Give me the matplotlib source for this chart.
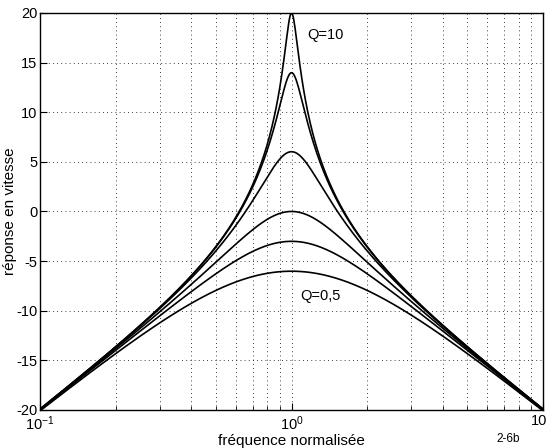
import numpy as np
import matplotlib
matplotlib.use("Agg")
import matplotlib.pyplot as plt
import matplotlib.transforms as mtransforms
from matplotlib.ticker import FixedLocator, LogLocator, NullFormatter

plt.rcParams["font.family"] = ["Liberation Sans", "DejaVu Sans"]
plt.rcParams["axes.unicode_minus"] = False

# Quality factors of the resonators shown
q_values = [10, 5, 2, 1, 0.7071, 0.5]
q_labels = ["Q=10", "Q=0,5"]
x_tick_values = [0.1, 1, 10]
x_tick_labels = ["$\\mathregular{10^{-1}}$", "$\\mathregular{10^{0}}$", "10"]

# Normalised frequency axis
freq = np.logspace(-1, 1, 800)

def velocity_response_db(w, q):
    # |jw / (1 - w^2 + j w / q)| in dB
    h = (1j * w) / (1 - w**2 + 1j * w / q)
    return 20 * np.log10(np.abs(h))

fig = plt.figure(figsize=(5.49, 4.48), dpi=100)
ax = fig.add_axes([0.073, 0.085, 0.916, 0.886])

for q in q_values:
    ax.semilogx(freq, velocity_response_db(freq, q), color="black", lw=1.2)

ax.set_xlim(0.1, 10)
ax.set_ylim(-20, 20)
ax.set_yticks(np.arange(-20, 21, 5))
ax.xaxis.set_major_locator(FixedLocator(x_tick_values))
ax.set_xticklabels(x_tick_labels)
ax.xaxis.set_minor_locator(LogLocator(base=10, subs=np.arange(2, 10), numticks=10))
ax.xaxis.set_minor_formatter(NullFormatter())
ax.grid(True, which="both", axis="x", color="black", linestyle=(0, (1, 4)), lw=0.6)
ax.grid(True, which="major", axis="y", color="black", linestyle=(0, (1, 4)), lw=0.6)
ax.tick_params(which="both", direction="in", labelsize=10.5)
ax.tick_params(axis="y", pad=2)
ax.tick_params(axis="x", pad=3)
ax.tick_params(which="minor", length=3)
ax.tick_params(which="major", length=5)
for s in ax.spines.values():
    s.set_linewidth(1.0)

# keep the last decade label inside the figure edge
last = ax.get_xticklabels()[-1]
last.set_transform(last.get_transform()
                   + mtransforms.ScaledTranslation(-4 / 100, 0, fig.dpi_scale_trans))

ax.set_ylabel("réponse en vitesse", fontsize=11)
ax.yaxis.set_label_coords(-0.046, 0.5)
ax.set_xlabel("fréquence normalisée", fontsize=11)
ax.xaxis.set_label_coords(0.5, -0.06)

ax.text(1.16, 17.8, q_labels[0], fontsize=10.5, ha="left", va="center")
ax.text(1.08, -8.5, q_labels[1], fontsize=10.5, ha="left", va="center")
fig.text(0.905, 0.006, "2-6b", fontsize=8.5, ha="left", va="bottom")

fig.savefig("out.png", dpi=100)
